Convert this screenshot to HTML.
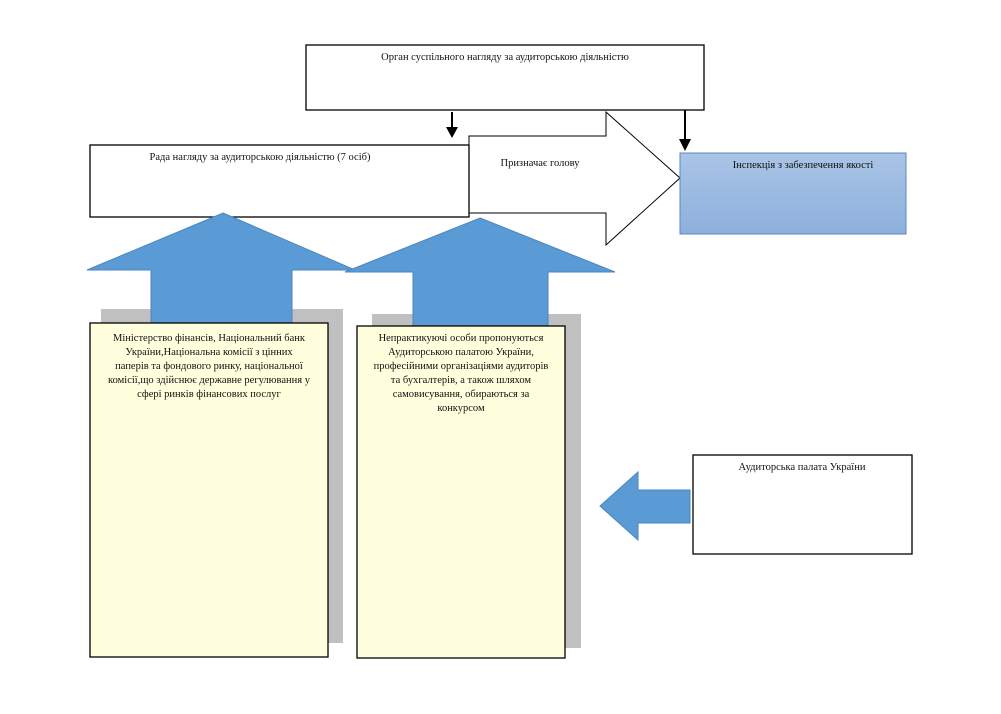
<!DOCTYPE html>
<html><head><meta charset="utf-8"><style>
body{margin:0;background:#fff;width:1001px;height:709px;overflow:hidden}
svg text{font-family:"Liberation Serif",serif;font-size:10.5px;fill:#111}
</style></head><body>
<svg width="1001" height="709" viewBox="0 0 1001 709" xmlns="http://www.w3.org/2000/svg">
<defs>
<linearGradient id="g" x1="0" y1="0" x2="0" y2="1"><stop offset="0" stop-color="#a9c4e6"/><stop offset="1" stop-color="#8db0dc"/></linearGradient>
</defs>
<!-- top box -->
<rect x="306" y="45" width="398" height="65" fill="#fff" stroke="#000" stroke-width="1.3"/>
<text x="505" y="60" text-anchor="middle">Орган суспільного нагляду за аудиторською діяльністю</text>
<!-- big right arrow -->
<polygon points="469,136 606,136 606,112 680,178 606,245 606,213 469,213" fill="#fff" stroke="#000" stroke-width="1"/>
<text x="540" y="166" text-anchor="middle">Призначає голову</text>
<!-- down arrows -->
<line x1="452" y1="112" x2="452" y2="128" stroke="#000" stroke-width="2"/>
<polygon points="446,127 458,127 452,138" fill="#000"/>
<line x1="685" y1="110" x2="685" y2="140" stroke="#000" stroke-width="2"/>
<polygon points="679,139 691,139 685,151" fill="#000"/>
<!-- rada box -->
<rect x="90" y="145" width="379" height="72" fill="#fff" stroke="#000" stroke-width="1.3"/>
<text x="260" y="160" text-anchor="middle">Рада нагляду за аудиторською діяльністю (7 осіб)</text>
<!-- inspection -->
<rect x="680" y="153" width="226" height="81" fill="url(#g)" stroke="#5b88c0" stroke-width="1"/>
<text x="803" y="168" text-anchor="middle">Інспекція з забезпечення якості</text>
<!-- shadows -->
<rect x="101" y="309" width="242" height="334" fill="#c0c0c0"/>
<rect x="372" y="314" width="209" height="334" fill="#c0c0c0"/>
<!-- up arrows -->
<polygon points="223,213 355,270 292,270 292,325 151,325 151,270 87,270" fill="#5b9bd5" stroke="#4a86c0" stroke-width="1"/>
<polygon points="480,218 615,272 548,272 548,328 413,328 413,272 345,272" fill="#5b9bd5" stroke="#4a86c0" stroke-width="1"/>
<!-- yellow boxes -->
<rect x="90" y="323" width="238" height="334" fill="#ffffde" stroke="#000" stroke-width="1.3"/>
<rect x="357" y="326" width="208" height="332" fill="#ffffde" stroke="#000" stroke-width="1.3"/>
<text text-anchor="middle"><tspan x="209" y="341">Міністерство фінансів, Національний банк</tspan><tspan x="209" y="355">України,Національна комісії з цінних</tspan><tspan x="209" y="369">паперів та фондового ринку, національної</tspan><tspan x="209" y="383">комісії,що здійснює державне регулювання у</tspan><tspan x="209" y="397">сфері ринків фінансових послуг</tspan></text>
<text text-anchor="middle"><tspan x="461" y="341">Непрактикуючі особи пропонуються</tspan><tspan x="461" y="355">Аудиторською палатою України,</tspan><tspan x="461" y="369">професійними організаціями аудиторів</tspan><tspan x="461" y="383">та  бухгалтерів, а також шляхом</tspan><tspan x="461" y="397">самовисування, обираються за</tspan><tspan x="461" y="411">конкурсом</tspan></text>
<!-- left arrow -->
<polygon points="600,506 638,472 638,490 690,490 690,523 638,523 638,540" fill="#5b9bd5" stroke="#4a86c0" stroke-width="1"/>
<!-- audit box -->
<rect x="693" y="455" width="219" height="99" fill="#fff" stroke="#000" stroke-width="1.3"/>
<text x="802" y="470" text-anchor="middle">Аудиторська палата України</text>
</svg>
</body></html>
